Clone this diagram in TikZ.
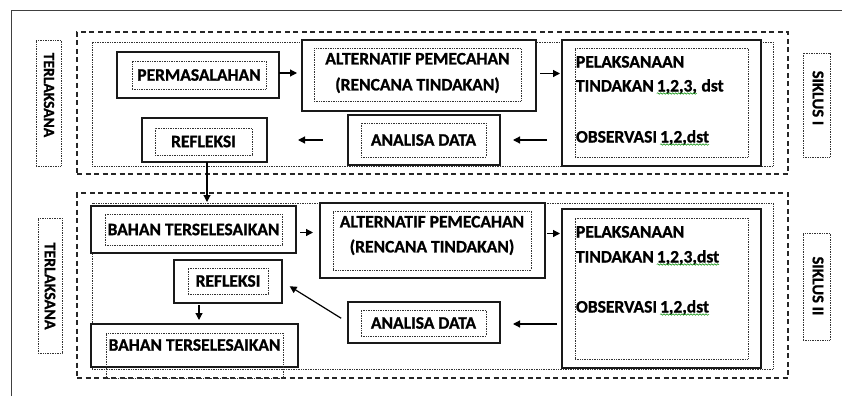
\documentclass[tikz,border=0pt]{standalone}
\usepackage{fontspec}
\setmainfont{Carlito}[BoldFont={Carlito Bold},BoldFeatures={FakeBold=1}]
\usetikzlibrary{arrows.meta,decorations.pathmorphing,calc}
\begin{document}
\begin{tikzpicture}[x=1pt,y=-1pt,
  every node/.style={inner sep=0pt,outer sep=0pt},
  fr/.style={draw=black!75,line width=1pt},
  dashbox/.style={draw=black!85,line width=1.2pt,dash pattern=on 5pt off 3.5pt},
  dotbox/.style={draw=black!80,line width=0.6pt,dash pattern=on 0.8pt off 0.9pt},
  solidbox/.style={draw=black!90,line width=1.3pt,fill=white},
  txt/.style={font=\fontsize{17.5}{26}\selectfont\bfseries,text=black},
  vtxt/.style={font=\fontsize{15.5}{18}\selectfont\bfseries,text=black,rotate=-90},
  stxt/.style={font=\fontsize{16.5}{18}\selectfont\bfseries,text=black,rotate=-90},
  arr/.style={line width=1.2pt,-{Triangle[length=7pt,width=7pt]}},
  squig/.style={draw=green!55!black,line width=0.5pt,decorate,decoration={snake,amplitude=0.8pt,segment length=3pt}}
]
\useasboundingbox (0,0) rectangle (842,396);
% frame
\draw[fr] (11,396) -- (11,11) -- (842,11);

% ===== upper cycle =====
\node[dashbox,minimum width=711pt,minimum height=142pt] (cyc1) at (432.5,103) {};
\node[dotbox,minimum width=681pt,minimum height=124pt] (cont1) at (432.5,104) {};
\node[dotbox,minimum width=25pt,minimum height=126pt] (terl1box) at (48.5,103) {};
\node[vtxt] (terl1) at (49,95) {TERLAKSANA};
\node[dotbox,minimum width=27pt,minimum height=104pt] (sik1box) at (816.5,105) {};
\node[stxt] (sik1) at (818,98) {SIKLUS I};

\node[solidbox,minimum width=162pt,minimum height=46pt] (perm) at (198,75) {};
\node[dotbox,minimum width=134pt,minimum height=28pt] (permi) at (199,75) {};
\node[txt] (permt) at (199,75) {PERMASALAHAN};

\node[solidbox,minimum width=234pt,minimum height=71pt] (alt) at (419,75.5) {};
\node[dotbox,minimum width=207pt,minimum height=53pt] (alti) at (417.5,74.5) {};
\node[txt,align=center] (altt) at (417.5,73) {ALTERNATIF PEMECAHAN\\(RENCANA TINDAKAN)};

\node[solidbox,minimum width=199pt,minimum height=126pt] (pel) at (661.5,103) {};
\node[dotbox,minimum width=173pt,minimum height=109pt] (peli) at (661.5,102.5) {};
\node[txt,anchor=base west] (pelt1) at (576,67.5) {PELAKSANAAN};
\node[txt,anchor=base west] (pelt2a) at (576,91.5) {TINDAKAN};
\node[txt,anchor=base west] (pelt2b) at ([xshift=3pt]pelt2a.base east) {1,2,3,};
\node[txt,anchor=base west] (pelt2c) at ([xshift=4.5pt]pelt2b.base east) {dst};
\node[txt,anchor=base west] (pelt3a) at (576,142.5) {OBSERVASI};
\node[txt,anchor=base west] (pelt3b) at ([xshift=3pt]pelt3a.base east) {1,2,dst};
\draw[squig] ([yshift=-2pt]pelt2b.base west) -- ([yshift=-2pt]pelt2b.base east);
\draw[squig] ([yshift=-2pt]pelt3b.base west) -- ([yshift=-2pt]pelt3b.base east);

\node[solidbox,minimum width=152pt,minimum height=50pt] (ana) at (424,140) {};
\node[dotbox,minimum width=125pt,minimum height=34pt] (anai) at (423.5,140) {};
\node[txt] (anat) at (423.5,140) {ANALISA DATA};

\node[solidbox,minimum width=125pt,minimum height=44pt] (ref) at (204.5,140) {};
\node[dotbox,minimum width=97pt,minimum height=27pt] (refi) at (203.5,141.5) {};
\node[txt] (reft) at (203.5,141.5) {REFLEKSI};

% ===== lower cycle =====
\node[dashbox,minimum width=711pt,minimum height=185pt] (cyc2) at (432.5,285.5) {};
\node[dotbox,minimum width=681pt,minimum height=166pt] (cont2) at (432.5,286) {};
\node[dotbox,minimum width=24pt,minimum height=135pt] (terl2box) at (50,285.5) {};
\node[vtxt,font=\fontsize{16}{18}\selectfont\bfseries] (terl2) at (50,286) {TERLAKSANA};
\node[dotbox,minimum width=27pt,minimum height=107pt] (sik2box) at (816.5,286.5) {};
\node[stxt] (sik2) at (818,286) {SIKLUS II};

\node[solidbox,minimum width=205pt,minimum height=47pt] (bah1) at (193.5,229.5) {};
\node[dotbox,minimum width=177pt,minimum height=31pt] (bah1i) at (193.5,229.5) {};
\node[txt] (bah1t) at (193.5,229.5) {BAHAN TERSELESAIKAN};

\node[solidbox,minimum width=225pt,minimum height=75pt] (alt2) at (432.5,240.5) {};
\node[dotbox,minimum width=198pt,minimum height=59pt] (alt2i) at (432,240.5) {};
\node[txt,align=center,font=\fontsize{17.5}{25}\selectfont\bfseries] (alt2t) at (432,235.5) {ALTERNATIF PEMECAHAN\\(RENCANA TINDAKAN)};

\node[solidbox,minimum width=199pt,minimum height=159pt] (pel2) at (661.5,288.5) {};
\node[dotbox,minimum width=173pt,minimum height=141pt] (pel2i) at (661.5,288.5) {};
\node[txt,anchor=base west] (pel2t1) at (576,237.5) {PELAKSANAAN};
\node[txt,anchor=base west] (pel2t2a) at (576,262.5) {TINDAKAN};
\node[txt,anchor=base west] (pel2t2b) at ([xshift=3pt]pel2t2a.base east) {1,2,3,dst};
\node[txt,anchor=base west] (pel2t3a) at (576,312.5) {OBSERVASI};
\node[txt,anchor=base west] (pel2t3b) at ([xshift=3pt]pel2t3a.base east) {1,2,dst};
\draw[squig] ([yshift=-2pt]pel2t2b.base west) -- ([yshift=-2pt]pel2t2b.base east);
\draw[squig] ([yshift=-2pt]pel2t3b.base west) -- ([yshift=-2pt]pel2t3b.base east);

\node[solidbox,minimum width=152pt,minimum height=41pt] (ana2) at (424,322.5) {};
\node[dotbox,minimum width=125pt,minimum height=26pt] (ana2i) at (423.5,323) {};
\node[txt] (ana2t) at (423.5,323) {ANALISA DATA};

\node[solidbox,minimum width=108pt,minimum height=43pt] (ref2) at (228,281.5) {};
\node[dotbox,minimum width=80pt,minimum height=26pt] (ref2i) at (228,281) {};
\node[txt] (ref2t) at (228,281) {REFLEKSI};

\node[solidbox,minimum width=207pt,minimum height=43pt] (bah2) at (194.5,345.5) {};
\node[dotbox,minimum width=177pt,minimum height=45pt] (bah2i) at (194.5,355.5) {};
\node[txt] (bah2t) at (194.5,345) {BAHAN TERSELESAIKAN};

% ===== arrows =====
\draw[arr,shorten >=5pt] ([yshift=2pt]perm.east) -- ([yshift=2pt]perm.east -| alt.west);
\draw[arr,shorten <=4pt,shorten >=2pt] ([yshift=2pt]alt.east) -- ([yshift=2pt]alt.east -| pel.west);
\draw[arr,shorten <=15pt,shorten >=13pt] (pel.west |- ana.east) -- (ana.east);
\draw[arr,shorten <=25pt,shorten >=31pt] (ana.west) -- (ana.west -| ref.east);
\draw[arr,shorten >=4pt] ([xshift=2.5pt]ref.south) -- ([xshift=2.5pt]ref.south |- bah1.north);

\draw[arr,shorten <=4pt,shorten >=7pt] ([yshift=-3pt]bah1.east) -- ([yshift=-3pt]bah1.east -| alt2.west);
\draw[arr,shorten <=2pt,shorten >=2pt] ([yshift=7pt]alt2.east) -- ([yshift=7pt]alt2.east -| pel2.west);
\draw[arr,shorten <=5pt,shorten >=13pt] ([yshift=-1.5pt]pel2.west |- ana2.east) -- ([yshift=-1.5pt]ana2.east);
\draw[arr,shorten <=8pt,shorten >=9pt] (ana2.west) -- (ref2.east);
\draw[arr,shorten <=2pt,shorten >=4pt] ([xshift=-29pt]ref2.south) -- ([xshift=-29pt]ref2.south |- bah2.north);
\end{tikzpicture}
\end{document}
